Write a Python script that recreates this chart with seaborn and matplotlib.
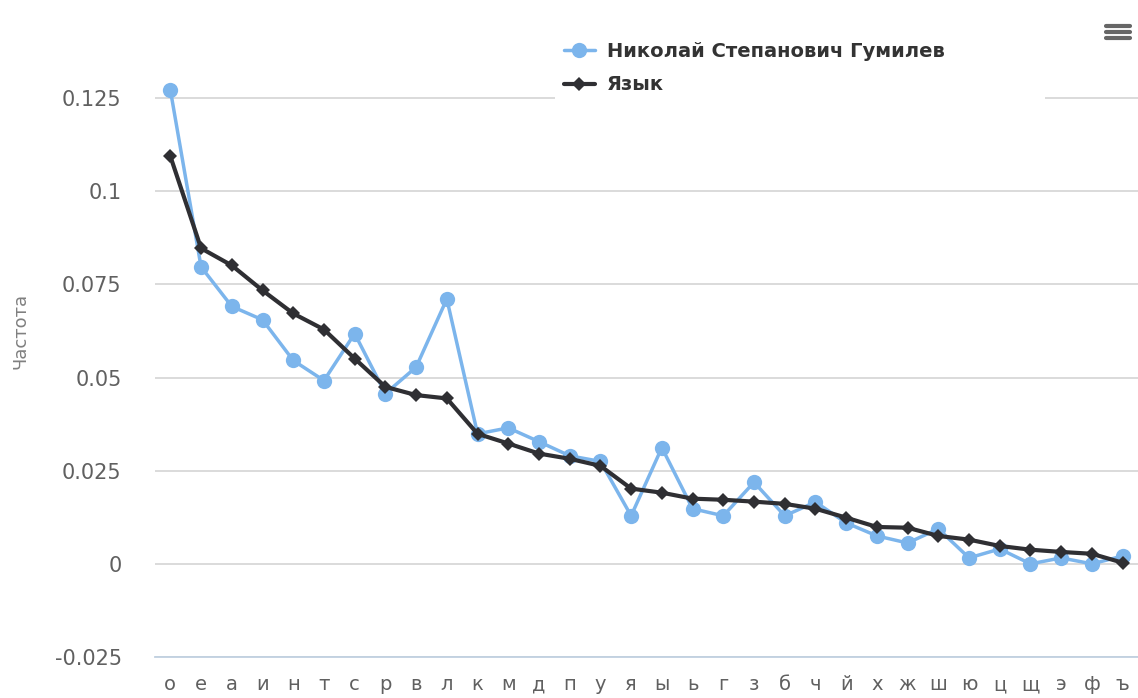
import matplotlib
matplotlib.use('Agg')
import matplotlib.pyplot as plt
from matplotlib.lines import Line2D
from matplotlib.patches import Rectangle
import seaborn as sns
import pandas as pd
import numpy as np

letters = ['о', 'е', 'а', 'и', 'н', 'т', 'с', 'р', 'в', 'л', 'к', 'м', 'д', 'п', 'у', 'я',
           'ы', 'ь', 'г', 'з', 'б', 'ч', 'й', 'х', 'ж', 'ш', 'ю', 'ц', 'щ', 'э', 'ф', 'ъ']

gumilev = [0.1272, 0.0797, 0.0691, 0.0655, 0.0546, 0.0492, 0.0618, 0.0457, 0.0528, 0.0711,
           0.0349, 0.0365, 0.0328, 0.0290, 0.0275, 0.0129, 0.0312, 0.0148, 0.0129, 0.0219,
           0.0129, 0.0166, 0.0110, 0.0075, 0.0056, 0.0094, 0.0016, 0.0040, 0.0000, 0.0016,
           0.0000, 0.0021]

language = [0.1094, 0.0847, 0.0801, 0.0734, 0.0672, 0.0629, 0.0551, 0.0475, 0.0453, 0.0444,
            0.0349, 0.0323, 0.0296, 0.0282, 0.0263, 0.0202, 0.0191, 0.0175, 0.0172, 0.0167,
            0.0161, 0.0148, 0.0124, 0.0099, 0.0097, 0.0075, 0.0065, 0.0048, 0.0038, 0.0032,
            0.0027, 0.0003]

yticks = [-0.025, 0, 0.025, 0.05, 0.075, 0.1, 0.125]
ytick_labels = ['-0.025', '0', '0.025', '0.05', '0.075', '0.1', '0.125']

sns.set_style('white')
plt.rcParams['font.family'] = ['DejaVu Sans']

df = pd.DataFrame({'pos': np.arange(len(letters)), 'letter': letters,
                   'gumilev': gumilev, 'language': language})

W, H = 1138, 698
fig = plt.figure(figsize=(W / 100, H / 100), dpi=100)
ax = fig.add_axes([155 / W, 1 - 657 / H, (W - 155) / W, (657 - 5) / H])

sns.lineplot(data=df, x='pos', y='gumilev', ax=ax, color='#7cb5ec', linewidth=2.5,
             marker='o', markersize=11, markeredgewidth=0, sort=False,
             label='Николай Степанович Гумилев', zorder=3)
sns.lineplot(data=df, x='pos', y='language', ax=ax, color='#2f2f33', linewidth=3,
             marker='D', markersize=7.5, markeredgewidth=0, sort=False,
             label='Язык', zorder=4)

ax.set_xlim(-0.5, len(letters) - 0.5)
ax.set_ylim(-0.025, 0.15)

ax.set_yticks(yticks)
ax.set_yticklabels(ytick_labels, color='#606060', fontsize=15)
ax.tick_params(axis='y', length=0, pad=24)
ax.yaxis.grid(True, color='#d8d8d8', linewidth=1.3)
ax.set_axisbelow(True)

ax.set_xticks(df['pos'])
ax.set_xticklabels(letters, color='#606060', fontsize=14)
ax.set_xticks(np.arange(-0.5, len(letters), 1.0), minor=True)
ax.tick_params(axis='x', which='major', length=0, pad=13)
ax.tick_params(axis='x', which='minor', length=10, width=1.2, color='#c0d0e0')

for side in ['left', 'right', 'top']:
    ax.spines[side].set_visible(False)
ax.spines['bottom'].set_color('#c0d0e0')
ax.spines['bottom'].set_linewidth(1.3)

ax.set_xlabel('')
ax.set_ylabel('Частота', color='#808080', fontsize=13, labelpad=18)

# legend lives on the figure, over a white box that hides the gridline
handles, labels = ax.get_legend_handles_labels()
ax.get_legend().remove()
fig.add_artist(Rectangle((555 / W, 1 - 101 / H), 490 / W, 73 / H,
                         transform=fig.transFigure, facecolor='white',
                         edgecolor='none', zorder=1))
leg = fig.legend(handles, labels, loc='upper left', bbox_to_anchor=(558 / W, 1 - 36 / H),
                 frameon=False, handlelength=1.6, handletextpad=0.6, labelspacing=0.75,
                 borderpad=0.3, borderaxespad=0,
                 prop={'weight': 'bold', 'size': 14})
leg.set_zorder(2)
for t in leg.get_texts():
    t.set_color('#333333')

# menu icon in the top right corner
for yy in [26, 32, 38]:
    fig.add_artist(Line2D([1106 / W, 1130 / W], [1 - yy / H, 1 - yy / H],
                          transform=fig.transFigure, color='#666666', linewidth=3))

fig.savefig('out.png', dpi=100)
